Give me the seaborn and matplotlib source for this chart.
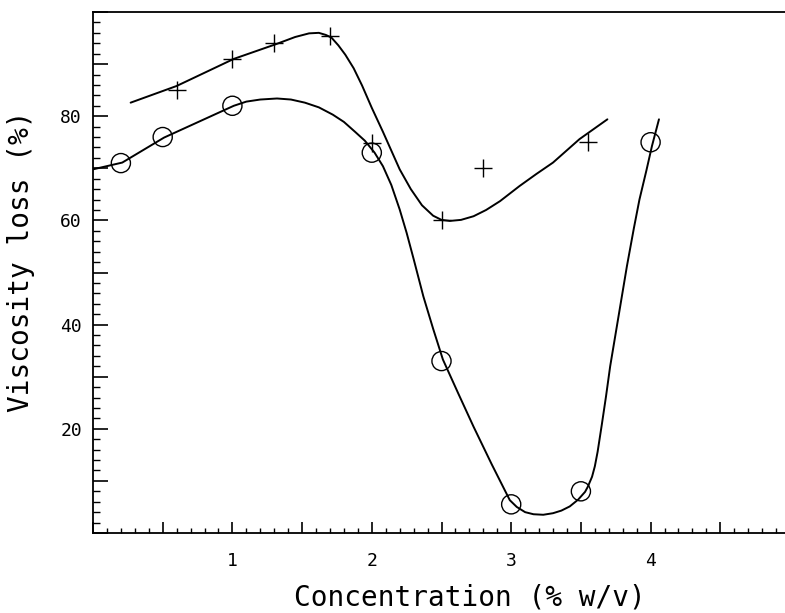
import numpy as np
import pandas as pd
import matplotlib
matplotlib.use("Agg")
import matplotlib.pyplot as plt
import matplotlib.ticker as mtick
import seaborn as sns

# measured points (circles and crosses)
circle_x = [0.2, 0.5, 1.0, 2.0, 2.5, 3.0, 3.5, 4.0]
circle_y = [71, 76, 82, 73, 33, 5.5, 8, 75]
plus_x = [0.6, 1.0, 1.3, 1.7, 2.0, 2.5, 2.8, 3.55]
plus_y = [85, 91, 94, 95.3, 74.8, 60, 70, 75]

# fitted curves
plus_curve_x = [0.27, 0.60, 1.01, 1.31, 1.45, 1.55, 1.62, 1.67, 1.71, 1.76, 1.81, 1.87,
                1.93, 2.00, 2.08, 2.20, 2.28, 2.36, 2.44, 2.50, 2.56, 2.64, 2.73, 2.82,
                2.92, 3.06, 3.18, 3.30, 3.49, 3.69]
plus_curve_y = [82.6, 85.8, 91.0, 93.8, 95.2, 95.9, 96.0, 95.6, 95.1, 93.6, 91.8, 89.2,
                85.9, 81.6, 77.0, 69.8, 66.0, 62.9, 60.9, 60.1, 59.9, 60.1, 60.8, 62.0,
                63.7, 66.6, 68.9, 71.1, 75.6, 79.4]
circle_curve_x = [0.0, 0.21, 0.51, 1.01, 1.10, 1.20, 1.32, 1.42, 1.52, 1.62, 1.72, 1.80,
                  1.88, 1.95, 2.02, 2.08, 2.14, 2.20, 2.25, 2.30, 2.37, 2.44, 2.51, 2.62,
                  2.73, 2.86, 2.99, 3.04, 3.10, 3.16, 3.23, 3.30, 3.36, 3.42, 3.48, 3.53,
                  3.55, 3.58, 3.60, 3.62, 3.65, 3.68, 3.71, 3.77, 3.83, 3.88, 3.92, 3.97,
                  4.01, 4.06]
circle_curve_y = [69.8, 71.1, 75.9, 82.0, 82.8, 83.2, 83.4, 83.2, 82.6, 81.7, 80.3, 78.9,
                  77.0, 75.3, 73.0, 70.4, 66.8, 62.1, 57.6, 52.6, 45.4, 39.2, 33.3, 26.8,
                  20.4, 13.2, 6.3, 5.0, 4.0, 3.6, 3.5, 3.8, 4.3, 5.1, 6.4, 7.9,
                  8.9, 10.8, 12.8, 15.6, 20.8, 26.2, 32.0, 41.6, 51.2, 58.5, 64.0, 69.6,
                  74.3, 79.4]

sns.set_style("ticks")
plt.rcParams['font.family'] = ['DejaVu Sans Mono', 'DejaVu Sans']
plt.rcParams['text.color'] = 'black'
plt.rcParams['axes.labelcolor'] = 'black'
plt.rcParams['xtick.color'] = 'black'
plt.rcParams['ytick.color'] = 'black'

fig = plt.figure(figsize=(7.85, 6.13), dpi=100)
ax = fig.add_axes([93 / 785, 1 - 533 / 613, 697 / 785, 521 / 613])

plus_curve = pd.DataFrame({"x": plus_curve_x, "y": plus_curve_y})
circle_curve = pd.DataFrame({"x": circle_curve_x, "y": circle_curve_y})
sns.lineplot(data=plus_curve, x="x", y="y", sort=False, color="black", linewidth=1.4, ax=ax)
sns.lineplot(data=circle_curve, x="x", y="y", sort=False, color="black", linewidth=1.4, ax=ax)

sns.scatterplot(x=circle_x, y=circle_y, marker="o", s=190, facecolor="none",
                edgecolor="black", linewidth=1.0, ax=ax, zorder=3)
sns.scatterplot(x=plus_x, y=plus_y, marker="+", s=170, color="black",
                linewidth=1.0, ax=ax, zorder=3)

ax.set_xlim(0, 5)
ax.set_ylim(0, 100)

ax.xaxis.set_major_locator(mtick.MultipleLocator(0.5))
ax.xaxis.set_minor_locator(mtick.MultipleLocator(0.1))
ax.xaxis.set_major_formatter(mtick.FuncFormatter(
    lambda v, _: f"{int(round(v))}" if abs(v - round(v)) < 1e-6 and 0 < v < 5 else ""))
ax.yaxis.set_major_locator(mtick.MultipleLocator(10))
ax.yaxis.set_minor_locator(mtick.MultipleLocator(2))
ax.yaxis.set_major_formatter(mtick.FuncFormatter(
    lambda v, _: f"{int(round(v))}" if int(round(v)) in (20, 40, 60, 80) else ""))

ax.tick_params(axis="both", which="both", direction="in", color="black", labelsize=13,
               labelcolor="black", top=False, right=False)
ax.tick_params(axis="x", which="major", length=8, width=1.2, pad=14)
ax.tick_params(axis="x", which="minor", length=3.5, width=1.0)
ax.tick_params(axis="y", which="major", length=11, width=1.2, pad=8)
ax.tick_params(axis="y", which="minor", length=5, width=1.0)

for side in ["left", "bottom", "top"]:
    ax.spines[side].set_linewidth(1.3)
    ax.spines[side].set_color("black")
ax.spines["right"].set_visible(False)

ax.set_xlabel("Concentration (% w/v)", fontsize=20, color="black")
ax.set_ylabel("Viscosity loss (%)", fontsize=20, color="black")
ax.xaxis.set_label_coords(0.541, -0.097)
ax.yaxis.set_label_coords(-0.083, 0.522)

fig.savefig("out.png", dpi=100)
